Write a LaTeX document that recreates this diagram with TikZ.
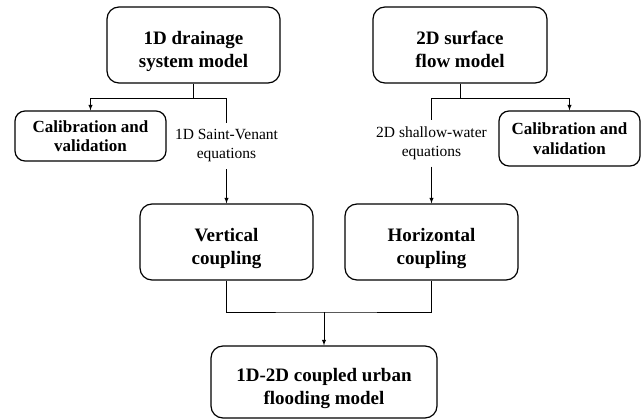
\documentclass[tikz,border=0pt]{standalone}
\usepackage{fontspec}
\setmainfont{Liberation Serif}
\usetikzlibrary{%
  arrows,%
  calc%
}
\newcommand{\twolines}[2]{\raisebox{-6pt}[\height][\depth]{%
  \begin{tabular}{@{}c@{}}#1\\#2\end{tabular}}}
\tikzset{>=latex,%
  modelbox/.style={draw,line width=1.2pt,rounded corners=12pt,align=center,
    font=\fontsize{19}{23}\selectfont\bfseries,minimum width=173pt,
    minimum height=76pt,inner sep=0pt},
  calbox/.style={draw,line width=1.2pt,rounded corners=10pt,align=center,
    font=\fontsize{17}{19.5}\selectfont\bfseries,inner sep=0pt},
  eqlabel/.style={align=center,font=\fontsize{15.5}{19}\selectfont,
    inner sep=0pt,minimum height=46pt},
  link/.style={line width=0.9pt}}

\begin{document}
\begin{tikzpicture}[x=1pt,y=-1pt]
    \useasboundingbox (0,0) rectangle (641,420);
    % models
    \node[modelbox] (drain) at (193.5,45) {\twolines{1D drainage}{system model}};
    \node[modelbox,minimum width=174pt] (surf) at (460,45)
      {\twolines{2D surface}{flow model}};
    \node[calbox,minimum width=151pt,minimum height=50pt] (calL) at (90.5,136)
      {Calibration and\\validation};
    \node[calbox,minimum width=141pt,minimum height=55pt] (calR) at (569.5,138.5)
      {Calibration and\\validation};
    \node[eqlabel] (eqL) at (226.5,146) {1D Saint-Venant\\equations};
    \node[eqlabel] (eqR) at (431.5,143.5) {2D shallow-water\\equations};
    \node[modelbox] (vert) at (226.5,242) {\twolines{Vertical}{coupling}};
    \node[modelbox] (horiz) at (431.5,242) {\twolines{Horizontal}{coupling}};
    \node[modelbox,minimum width=226pt,minimum height=72pt] (coupled) at (324,382)
      {\twolines{1D-2D coupled urban}{flooding model}};
    % junctions
    \coordinate (jl) at (193.5,98);
    \coordinate (jr) at (460,98);
    \coordinate (jb) at (324,312);
    % links
    \draw[link] (drain.south) -- (jl);
    \draw[link,->] (jl) -| (calL.north);
    \draw[link] (jl) -| (eqL.north);
    \draw[link,->] (eqL.south) -- (vert.north);
    \draw[link] (surf.south) -- (jr);
    \draw[link,->] (jr) -| (calR.north);
    \draw[link] (jr) -| (eqR.north);
    \draw[link,->] (eqR.south) -- (horiz.north);
    \draw[link] (vert.south) |- (jb) -| (horiz.south);
    \draw[link,->] (jb) -- (coupled.north);
\end{tikzpicture}
\end{document}
